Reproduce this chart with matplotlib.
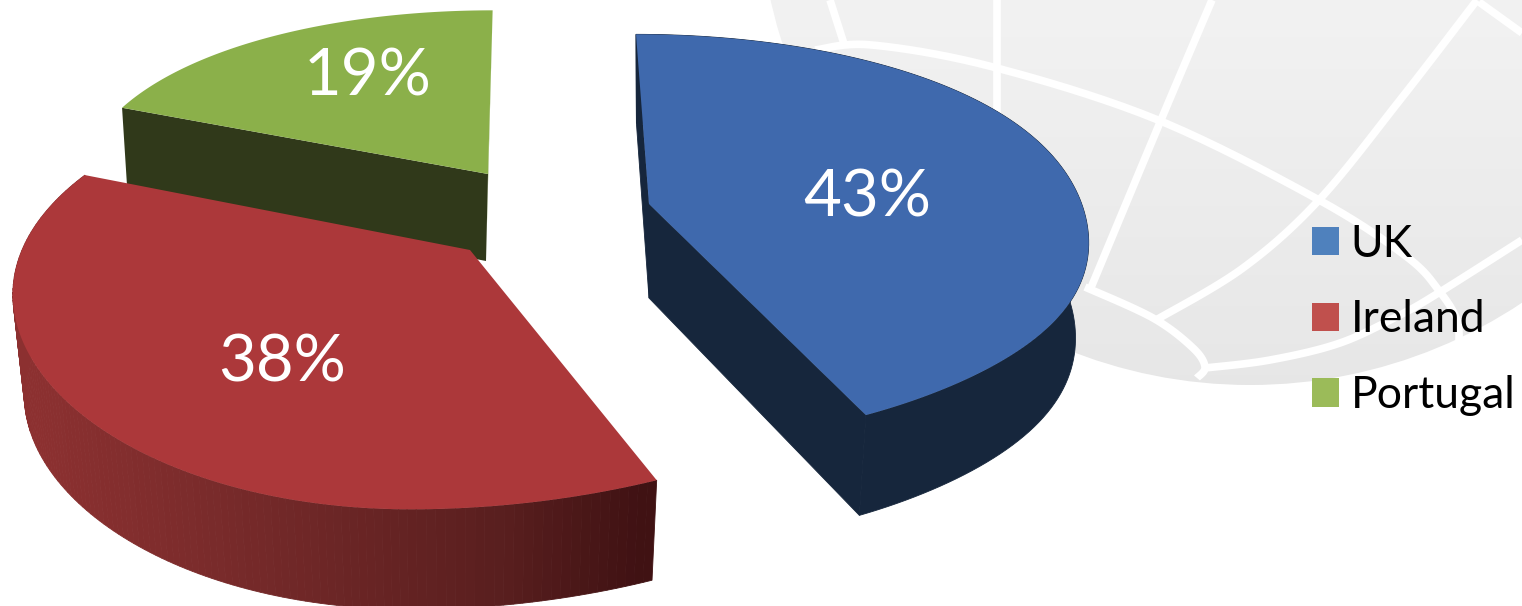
import numpy as np
import matplotlib
matplotlib.use('Agg')
import matplotlib.pyplot as plt
from matplotlib.patches import Circle, Patch

plt.rcParams['font.family'] = ['Lato', 'DejaVu Sans']

labels = ['UK', 'Ireland', 'Portugal']
shares = [43, 38, 19]
legend_colors = ['#4f81bd', '#c0504d', '#9bbb59']
top_colors = ['#3f69ad', '#ac383a', '#8bb04a']

# slice geometry in picture pixels: apex, radii, skew, bottom face
geom = [
    dict(cx=649, cy=204, rxl=428, rxr=428, ry=198, sh=-14, bulge=20, bx=649, by=298, kx=0.97, ky=1.03),
    dict(cx=470, cy=250, rxl=448, rxr=524, ry=216, sh=55, bulge=0, bx=470, by=350, kx=0.975, ky=1.0),
    dict(cx=488, cy=174, rxl=407, rxr=407, ry=191, sh=5, bulge=0, bx=486, by=261, kx=0.98, ky=1.05),
]
label_pos = [(867, 198), (282, 363), (368, 77)]
PX, PY = 0.079, 0.167

# globe behind the chart, pixel traced
globe_center = (1250, -106)
globe_radius = 491
globe_lines = [
    [(815, 50), (872, 45), (993, 67), (1158, 120), (1319, 200), (1407, 257), (1440, 292), (1457, 320), (1459, 345)],
    [(1522, 240), (1440, 292), (1400, 315), (1340, 343), (1270, 360), (1205, 368)],
    [(1085, 287), (1153, 318), (1193, 348), (1205, 367), (1197, 378)],
    [(830, 0), (845, 47)],
    [(997, 0), (997, 125)],
    [(1212, 0), (1161, 120), (1090, 290)],
    [(1477, 0), (1400, 100), (1319, 200), (1243, 268), (1156, 320)],
    [(1479, 2), (1522, 33)],
]


def point(g, a, bottom=False):
    c, s = np.cos(a), np.sin(a)
    rx = np.where(c < 0, g['rxl'], g['rxr'])
    # front right of the uk slice sticks out further
    extra = g['bulge'] * np.exp(-((a + 0.6) / 0.5) ** 2)
    dx = (rx * c + g['sh'] * s + extra) / (1 + PX * s)
    dy = g['ry'] * s / (1 + PY * s)
    if bottom:
        return g['bx'] + g['kx'] * dx, g['by'] - g['ky'] * dy
    return g['cx'] + dx, g['cy'] - dy


def smooth(pts, n=20):
    # catmull-rom through the traced points
    p = np.array([pts[0]] + pts + [pts[-1]], dtype=float)
    out = []
    for i in range(1, len(p) - 2):
        for t in np.linspace(0, 1, n):
            out.append(0.5 * (2 * p[i] + (p[i + 1] - p[i - 1]) * t
                              + (2 * p[i - 1] - 5 * p[i] + 4 * p[i + 1] - p[i + 2]) * t ** 2
                              + (3 * p[i] - p[i - 1] - 3 * p[i + 1] + p[i + 2]) * t ** 3))
    return np.array(out)


fig = plt.figure(figsize=(15.22, 6.06), dpi=100)
ax = fig.add_axes([0, 0, 1, 1])
ax.set_xlim(0, 1522)
ax.set_ylim(606, 0)
ax.axis('off')

# globe
grad = np.linspace(0.945, 0.90, 64).reshape(-1, 1)
im = ax.imshow(grad, extent=[700, 1522, 400, 0], cmap='gray', vmin=0, vmax=1, aspect='auto', zorder=1)
im.set_clip_path(Circle(globe_center, globe_radius, transform=ax.transData))
ax.set_xlim(0, 1522)
ax.set_ylim(606, 0)
for line in globe_lines:
    xy = smooth(line)
    ax.plot(xy[:, 0], xy[:, 1], color='white', lw=5.5, solid_capstyle='butt', zorder=2)

# slice angles, clockwise from twelve o'clock
edges = np.pi / 2 - 2 * np.pi * np.cumsum([0] + shares) / sum(shares)

# portugal: walls
g = geom[2]
a0, a1 = edges[2], edges[3]
outer = point(g, a0), point(g, a0, True)
ax.fill([point(g, a1)[0], g['cx'], g['bx'], point(g, a1, True)[0]],
        [point(g, a1)[1], g['cy'], g['by'], point(g, a1, True)[1]], color='#7d9c3f', lw=0, zorder=3)
ax.fill([outer[0][0], g['cx'], g['bx'], outer[1][0]],
        [outer[0][1], g['cy'], g['by'], outer[1][1]], color='#30391a', lw=0, zorder=3)

# uk: side and walls
g = geom[0]
a = np.linspace(edges[0], edges[1], 120)
tx, ty = point(g, a)
bx, by = point(g, a, True)
ax.fill(np.r_[tx, bx[::-1]], np.r_[ty, by[::-1]], color='#16263c', lw=0.6, zorder=3)
for e in edges[:2]:
    ax.fill([point(g, e)[0], g['cx'], g['bx'], point(g, e, True)[0]],
            [point(g, e)[1], g['cy'], g['by'], point(g, e, True)[1]], color='#16263c', lw=0.6, zorder=3)

# ireland: shaded side
g = geom[1]
a = np.linspace(edges[1], edges[2], 140)
tx, ty = point(g, a)
bx, by = point(g, a, True)
for i in range(len(a) - 1):
    xm = (tx[i] + tx[i + 1]) / 2
    col = [np.interp(xm, [30, 200, 500, 640], v) for v in ([0.55, 0.48, 0.35, 0.25], [0.19, 0.17, 0.12, 0.07], [0.19, 0.17, 0.12, 0.075])]
    ax.fill([tx[i], tx[i + 1], bx[i + 1], bx[i]], [ty[i], ty[i + 1], by[i + 1], by[i]],
            facecolor=col, edgecolor=col, lw=0.6, zorder=4)

# top faces
for i, g in enumerate(geom):
    a = np.linspace(edges[i], edges[i + 1], 200)
    x, y = point(g, a)
    ax.fill(np.r_[g['cx'], x], np.r_[g['cy'], y], color=top_colors[i], lw=0, zorder=5 if i != 2 else 3.5)
    ax.text(label_pos[i][0], label_pos[i][1], '%d%%' % shares[i], color='white', fontsize=47,
            ha='center', va='center', zorder=6)

handles = [Patch(facecolor=c, edgecolor='none') for c in legend_colors]
ax.legend(handles, labels, loc='center left', bbox_to_anchor=(1299, 320), bbox_transform=ax.transData,
          frameon=False, fontsize=32, handlelength=0.61, handleheight=0.61, handletextpad=0.25,
          labelspacing=0.78, borderpad=0, borderaxespad=0.3)

fig.savefig('out.png', dpi=100, facecolor='white')
